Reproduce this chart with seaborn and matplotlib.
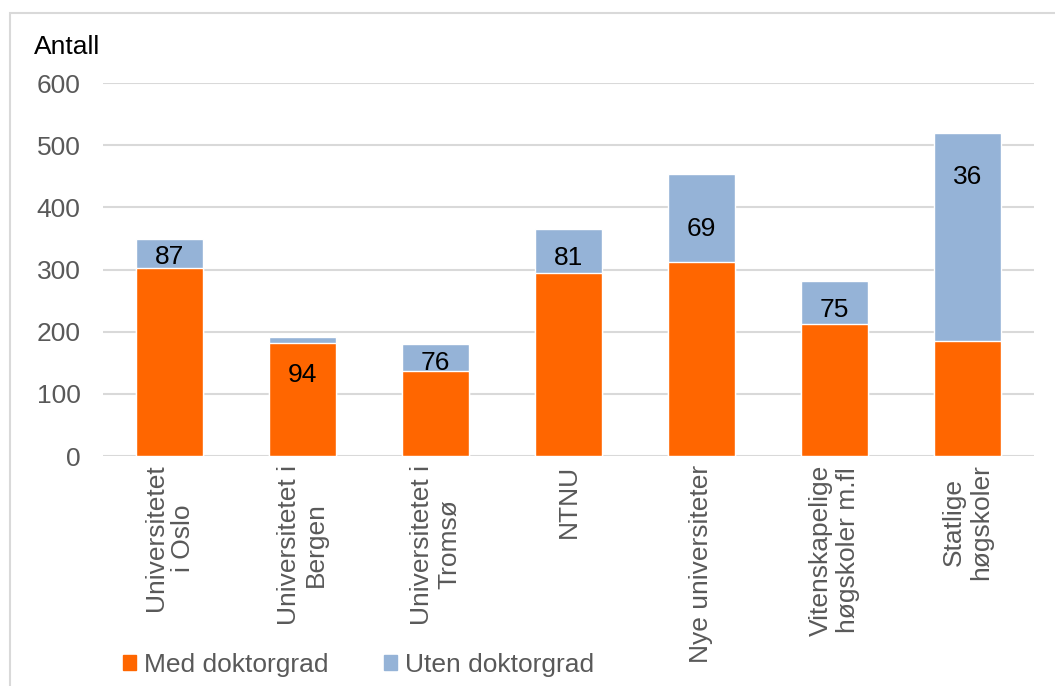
import matplotlib
matplotlib.use("Agg")
import matplotlib.pyplot as plt
import matplotlib.patches as mpatches
import seaborn as sns

categories = ["Universitetet\ni Oslo", "Universitetet i\nBergen", "Universitetet i\nTromsø",
              "NTNU", "Nye universiteter", "Vitenskapelige\nhøgskoler m.fl", "Statlige\nhøgskoler"]
med_doktorgrad = [302, 182, 137, 294, 312, 212, 185]
totalt = [349, 192, 180, 365, 454, 281, 519]
andel_label = ["87", "94", "76", "81", "69", "75", "36"]
# where the share labels sit (data units), as in the original
label_pos = [321, 131, 150, 318, 365, 235, 449]

orange = "#FF6600"
blue = "#95B3D7"
grey_text = "#595959"
grid_col = "#D9D9D9"
fs = 19

sns.set_style("white")
plt.rcParams["font.family"] = ["Liberation Sans", "DejaVu Sans"]

fig = plt.figure(figsize=(10.55, 6.86), dpi=100)
ax = fig.add_axes([0.0976, 0.335, 0.8824, 0.544])

sns.barplot(x=categories, y=totalt, color=blue, width=0.5, saturation=1, ax=ax, zorder=2)
sns.barplot(x=categories, y=med_doktorgrad, color=orange, width=0.5, saturation=1, ax=ax, zorder=3)

for i, (lab, yp) in enumerate(zip(andel_label, label_pos)):
    ax.text(i, yp, lab, ha="center", va="center", fontsize=fs, color="black", zorder=5)

ax.set_ylim(0, 600)
ax.set_xlim(-0.5, 6.5)
ax.set_yticks(range(0, 601, 100))
ax.yaxis.grid(True, color=grid_col, linewidth=1.5, zorder=0)
ax.set_axisbelow(True)
for s in ax.spines.values():
    s.set_visible(False)
ax.tick_params(axis="both", length=0, labelsize=fs, labelcolor=grey_text)
ax.tick_params(axis="y", pad=16)
ax.set_xticks(range(len(categories)))
ax.set_xticklabels(categories, rotation=90, ha="center", va="top", multialignment="center")
ax.tick_params(axis="x", pad=6)
ax.set_xlabel("")
ax.set_ylabel("")

fig.text(34 / 1055, 1 - 47 / 686, "Antall", fontsize=fs, color="black", va="center", ha="left")

# outer chart frame
fig.patches.append(mpatches.Rectangle((10 / 1055, -0.01), 1.02, 1 - 13 / 686 + 0.01,
                                      transform=fig.transFigure, fill=False,
                                      edgecolor=grid_col, linewidth=1.5))

handles = [mpatches.Patch(color=orange, label="Med doktorgrad"),
           mpatches.Patch(color=blue, label="Uten doktorgrad")]
leg = fig.legend(handles=handles, loc="center left", bbox_to_anchor=(123 / 1055, 1 - 665 / 686),
                 ncol=2, frameon=False, fontsize=fs, handlelength=0.5, handleheight=0.5,
                 handletextpad=0.3, columnspacing=2.1, borderpad=0, borderaxespad=0)
for t in leg.get_texts():
    t.set_color(grey_text)

fig.savefig("out.png", dpi=100)
